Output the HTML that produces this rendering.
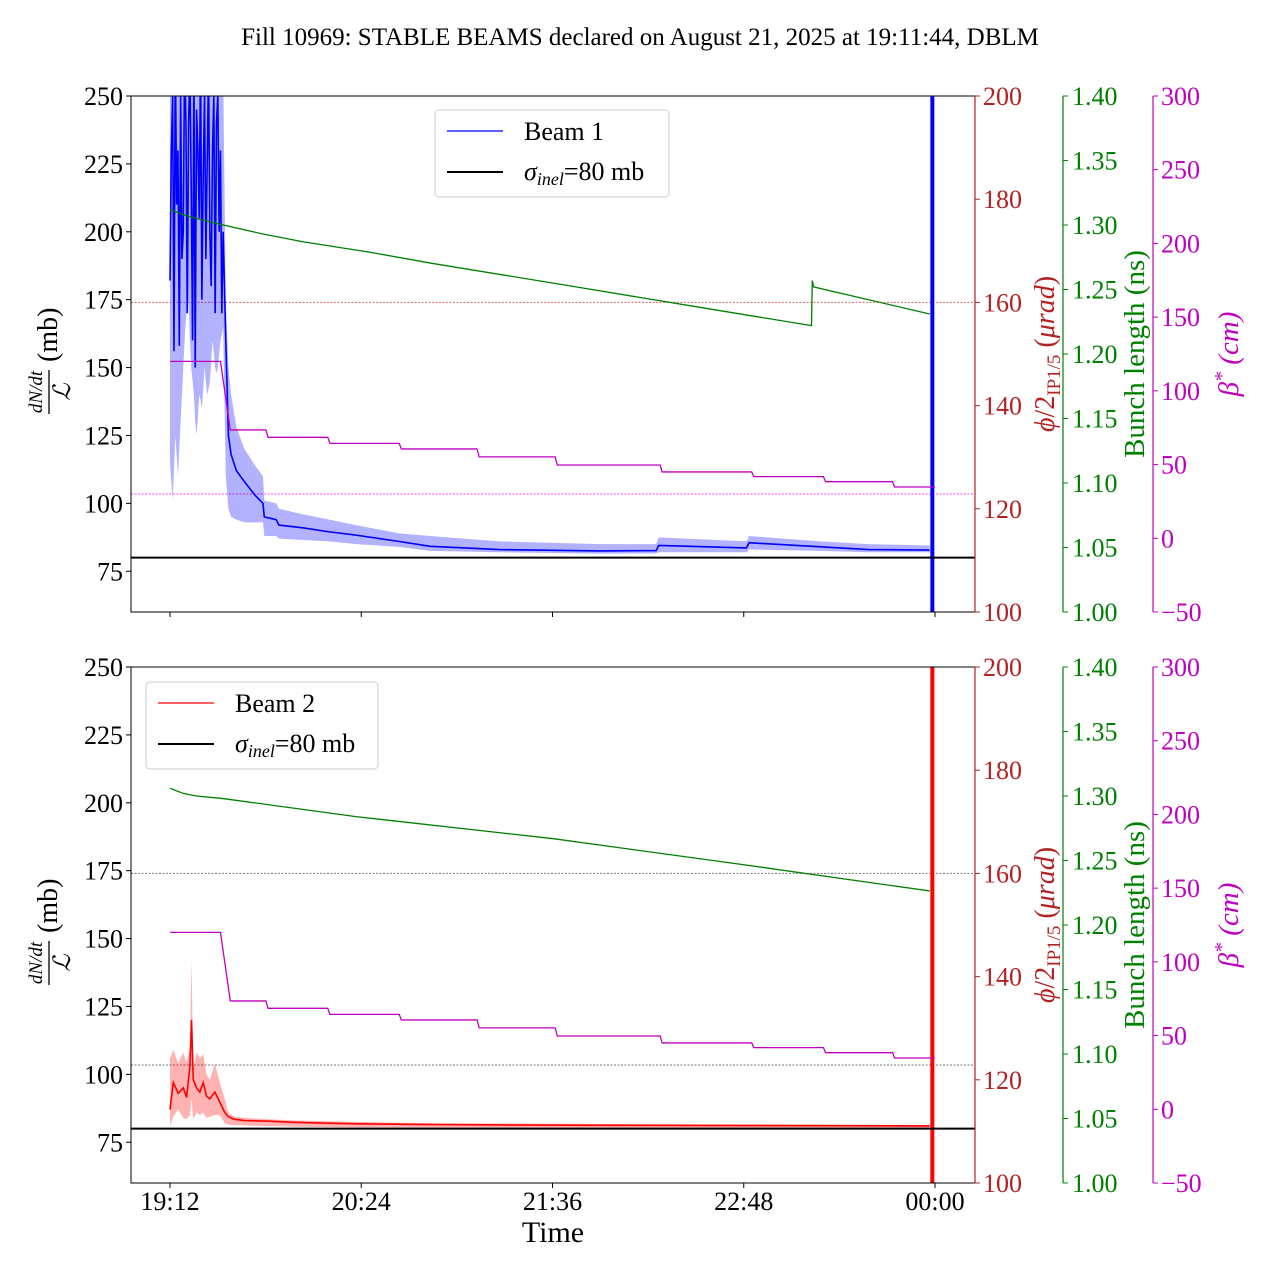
<!DOCTYPE html>
<html><head><meta charset="utf-8"><style>
html,body{margin:0;padding:0;background:#fff;}
svg{display:block;font-family:"Liberation Serif",serif;}
</style></head><body>
<svg id="chart" width="1280" height="1280" viewBox="0 0 1280 1280" xmlns="http://www.w3.org/2000/svg">
<rect width="1280" height="1280" fill="#fff"/>
<text x="640" y="45" text-anchor="middle" font-size="25">Fill 10969: STABLE BEAMS declared on August 21, 2025 at 19:11:44, DBLM</text>
<defs>
<clipPath id="clipTop"><rect x="131" y="96" width="844" height="516"/></clipPath>
<clipPath id="clipBot"><rect x="131" y="667" width="844" height="516"/></clipPath>
</defs>
<g id="layer"></g>
</svg>
<script>
// ---- data (minutes after 19:12) ----
const xTickLabels = ["19:12","20:24","21:36","22:48","00:00"];
const xTickMinutes = [0,72,144,216,288];
const leftTicks = [75,100,125,150,175,200,225,250];
const redTicks = [100,120,140,160,180,200];
const greenTicks = [1.00,1.05,1.10,1.15,1.20,1.25,1.30,1.35,1.40];
const magTicks = [-50,0,50,100,150,200,250,300];

const b1Time = [0,0.5,1,1.5,2,2.5,3,3.5,4,4.5,5,5.5,6,6.5,7,7.5,8,8.5,9,9.5,10,10.5,11,11.5,12,12.5,13,13.5,14,14.5,15,15.5,16,16.5,17,17.5,18,18.5,19,19.5,20,21,22,23,25,28,32,35,35.5,40,41,50,60,70,86,98,124,162,183,184,217,218,245,263,286];
const b1Mean = [182,230,250,156,265,210,230,158,250,190,200,265,240,170,240,260,215,160,260,150,245,230,205,265,175,220,250,190,225,260,200,180,230,250,170,240,250,200,230,170,200,160,125,118,112,108,103,100,95,94,92,91,89.5,88.3,86,84.2,83,82.5,82.6,84.5,83.6,85.5,84,83,82.8];
const b1Lo = [115,108,101,112,125,118,110,120,130,140,150,160,168,172,175,160,150,145,140,130,125,132,140,138,135,142,150,145,140,142,145,152,160,155,150,148,150,155,160,162,165,110,98,95,94,93,93,93,88,88,87,86.5,86,85,84,82.5,82,81.5,81.6,82,82,83,82.5,82,82];
const b1Hi = [260,260,260,260,260,260,260,260,260,260,260,260,260,260,260,260,260,260,260,260,260,260,260,260,260,260,260,260,260,260,260,260,260,260,260,260,260,260,260,260,260,175,150,140,128,120,114,110,101,100,98,96,94,92,89,88,86,85,85,87.5,86,88,86,85,84.5];

const b2Time = [0,1.25,3.1,5,6.25,7.5,8.1,8.75,10,11.25,12.5,13.75,15,16.9,18.75,20.6,21.9,24,28,36,48,70,100,150,200,250,286];
const b2Mean = [87,97,93,95,91.5,103,120,98,95,93.5,97,92,91,93.5,89.7,86,84.5,83.5,83,82.8,82.3,81.8,81.5,81.3,81.2,81.1,81];
const b2Hi = [106,109,104,108,104.4,110,142,102,108,106,107.5,100,98,104,97,91,86,84.5,84,83.5,83,82.5,82,81.8,81.6,81.5,81.4];
const b2Lo = [81,84.5,87,84,83.5,85,91,83.5,86,85,86,84,84.5,85,85,82,81.5,81.3,81.2,81,80.7,80.5,80.4,80.3,80.3,80.3,80.3];

const spikeTime = [287];
const sigmaInel = [80];

const bunchTopTime = [0,5,10,20,35,50,75,98,150,200,241.5,241.8,242.3,286];
const bunchTopVal = [1.312,1.308,1.305,1.300,1.293,1.287,1.279,1.2705,1.253,1.236,1.222,1.257,1.252,1.231];
const bunchBotTime = [0,5,10,20,70,144,215,286];
const bunchBotVal = [1.306,1.302,1.300,1.298,1.284,1.267,1.247,1.2264];

const betaStepTime = [19,36.1,59.4,86.3,115.6,145,184.5,219,246,272];
const betaStepEnd = [22.7,36.9,60.2,87.1,116.4,145.8,185.3,219.8,246.8,272.8];
const betaLevels = [120,73.5,68.5,64.4,60.6,55.2,49.7,45,41.8,38.4,34.8];
const betaEnd = [288];

const crossingRef = [160];
const betaRef = [30];

// ---- scales ----
const NS="http://www.w3.org/2000/svg";
const layer=document.getElementById('layer');
function xT(t){return 170+t*191.25/72;}
function yL(v,o){return o+96+(250-v)*516/190;}
function yR(v,o){return o+96+(200-v)*5.16;}
function yG(v,o){return o+96+(1.4-v)*1290;}
function yM(v,o){return o+96+(300-v)*516/350;}
function mk(tag,attrs,parent){const e=document.createElementNS(NS,tag);for(const k in attrs)e.setAttribute(k,attrs[k]);(parent||layer).appendChild(e);return e;}
function pts(ts,vs,fy,o){return ts.map((t,i)=>xT(t).toFixed(2)+','+fy(vs[i],o).toFixed(2)).join(' ');}

function panel(o,which){
  const clip = o===0?'url(#clipTop)':'url(#clipBot)';
  const g=mk('g',{'clip-path':clip});
  
  
  const c1 = which==='top'?'#e06060':'#777';
  const c2 = which==='top'?'#ff44ff':'#777';
  const r1=mk('line',{x1:131,x2:975,y1:yR(crossingRef[0],o),y2:yR(crossingRef[0],o),stroke:c1,'stroke-width':1,'stroke-dasharray':'2,1.5'},g);
  
  
  const r2=mk('line',{x1:131,x2:975,y1:yM(betaRef[0],o),y2:yM(betaRef[0],o),stroke:c2,'stroke-width':1,'stroke-dasharray':'2,1.5'},g);
  
  
  const T = which==='top'?b1Time:b2Time, M=which==='top'?b1Mean:b2Mean, L=which==='top'?b1Lo:b2Lo, H=which==='top'?b1Hi:b2Hi;
  const col = which==='top'?'#0000ff':'#ff0000';
  const fillc = which==='top'?'rgba(0,0,255,0.3)':'rgba(255,0,0,0.3)';
  const bandPts = pts(T,H,yL,o)+' '+pts(T.slice().reverse(),L.slice().reverse(),yL,o);
  const band=mk('polygon',{points:bandPts,fill:fillc,stroke:'none'},g);
  
  
  const ln=mk('polyline',{points:pts(T,M,yL,o),fill:'none',stroke:col,'stroke-width':1.6},g);
  
  
  const sp=mk('line',{x1:xT(spikeTime[0]),x2:xT(spikeTime[0]),y1:o+96,y2:o+612,stroke:col,'stroke-width':4},g);
  
  
  const si=mk('line',{x1:131,x2:975,y1:yL(sigmaInel[0],o),y2:yL(sigmaInel[0],o),stroke:'#000','stroke-width':2},g);
  
  
  const bt=which==='top'?bunchTopTime:bunchBotTime, bv=which==='top'?bunchTopVal:bunchBotVal;
  const bl=mk('polyline',{points:pts(bt,bv,yG,o),fill:'none',stroke:'#008000','stroke-width':1.3},g);
  
  
  const bts=[0], bvs=[betaLevels[0]];
  for(let i=0;i<betaStepTime.length;i++){bts.push(betaStepTime[i]);bvs.push(betaLevels[i]);bts.push(betaStepEnd[i]);bvs.push(betaLevels[i+1]);}
  bts.push(betaEnd[0]);bvs.push(betaLevels[betaLevels.length-1]);
  const be=mk('polyline',{points:pts(bts,bvs,yM,o),fill:'none',stroke:'#c000c0','stroke-width':1.3},g);
  
  

  const fr=mk('rect',{x:131,y:o+96,width:844,height:516,fill:'none',stroke:'#000','stroke-width':1});
  
  
  leftTicks.forEach(v=>{
    const y=yL(v,o);
    mk('line',{x1:126,x2:131,y1:y,y2:y,stroke:'#000'});
    const t=mk('text',{x:123,y:y+9,'text-anchor':'end','font-size':26});
    t.textContent=v;
    
    
  });
  xTickMinutes.forEach((m,i)=>{
    const x=xT(m);
    mk('line',{x1:x,x2:x,y1:o+612,y2:o+617,stroke:'#000'});
    if(which==='bot'){
      const t=mk('text',{x:x,y:1210,'text-anchor':'middle','font-size':26});
      t.textContent=xTickLabels[i];
      
      
    }
  });
  mk('line',{x1:975,x2:975,y1:o+96,y2:o+612,stroke:'#b22222','stroke-width':1.2});
  redTicks.forEach(v=>{const y=yR(v,o);mk('line',{x1:975,x2:980,y1:y,y2:y,stroke:'#b22222'});
    const t=mk('text',{x:983,y:y+9,'font-size':26,fill:'#b22222'});t.textContent=v;
    
    });
  mk('line',{x1:1063,x2:1063,y1:o+96,y2:o+612,stroke:'#008000','stroke-width':1.2});
  greenTicks.forEach(v=>{const y=yG(v,o);mk('line',{x1:1063,x2:1068,y1:y,y2:y,stroke:'#008000'});
    const t=mk('text',{x:1072,y:y+9,'font-size':26,fill:'#008000'});t.textContent=v.toFixed(2);
    
    });
  mk('line',{x1:1153,x2:1153,y1:o+96,y2:o+612,stroke:'#c000c0','stroke-width':1.2});
  magTicks.forEach(v=>{const y=yM(v,o);mk('line',{x1:1153,x2:1158,y1:y,y2:y,stroke:'#c000c0'});
    const t=mk('text',{x:1161,y:y+9,'font-size':26,fill:'#c000c0'});t.textContent=(v<0?'\u2212'+(-v):v);
    
    });
  const cy=o+354;
  const yl=mk('g',{transform:`translate(62,${cy}) rotate(-90)`});
  
  
  const n=mk('text',{x:-38,y:-20,'font-size':19,'font-style':'italic','text-anchor':'middle'},yl);n.textContent='dN/dt';
  mk('line',{x1:-60,x2:-16,y1:-13,y2:-13,stroke:'#000','stroke-width':1.3},yl);
  const d=mk('text',{x:-38,y:8,'font-size':24,'font-style':'italic','text-anchor':'middle'},yl);d.textContent='\u2112';
  const mb=mk('text',{x:-8,y:-5,'font-size':28},yl);mb.textContent='(mb)';
  const rl=mk('text',{transform:`translate(1054,${cy}) rotate(-90)`,'text-anchor':'middle','font-size':28,fill:'#b22222'});
  
  
  rl.innerHTML='<tspan font-style="italic">\u03d5</tspan>/2<tspan font-size="19" dy="6">IP1/5</tspan><tspan dy="-6"> (</tspan><tspan font-style="italic">\u03bcrad</tspan>)';
  const gl=mk('text',{transform:`translate(1144,${cy}) rotate(-90)`,'text-anchor':'middle','font-size':29,fill:'#008000'});
  gl.textContent='Bunch length (ns)';
  
  
  const ml=mk('text',{transform:`translate(1238,${cy}) rotate(-90)`,'text-anchor':'middle','font-size':29,fill:'#c000c0','font-style':'italic'});
  ml.innerHTML='\u03b2<tspan dy="-10" font-size="20">*</tspan><tspan dy="10"> (cm)</tspan>';
  
  
  const lx = which==='top'?435:146, ly=o+(which==='top'?110:111), lw=which==='top'?234:232;
  const lg=mk('g',{});
  
  
  mk('rect',{x:lx,y:ly,width:lw,height:87,rx:4,fill:'#fff','fill-opacity':0.8,stroke:'#ccc'},lg);
  mk('line',{x1:lx+12,x2:lx+68,y1:ly+21,y2:ly+21,stroke:col,'stroke-width':1.3},lg);
  const t1=mk('text',{x:lx+89,y:ly+30,'font-size':26},lg);t1.textContent=which==='top'?'Beam 1':'Beam 2';
  mk('line',{x1:lx+12,x2:lx+68,y1:ly+62,y2:ly+62,stroke:'#000','stroke-width':2},lg);
  const t2=mk('text',{x:lx+89,y:ly+70,'font-size':26},lg);
  t2.innerHTML='<tspan font-style="italic">\u03c3</tspan><tspan font-style="italic" font-size="18" dy="5">inel</tspan><tspan dy="-5">=80 mb</tspan>';
}
panel(0,'top');
panel(571,'bot');
const xt=mk('text',{x:553,y:1242,'text-anchor':'middle','font-size':30});
xt.textContent='Time';


</script>
</body></html>
